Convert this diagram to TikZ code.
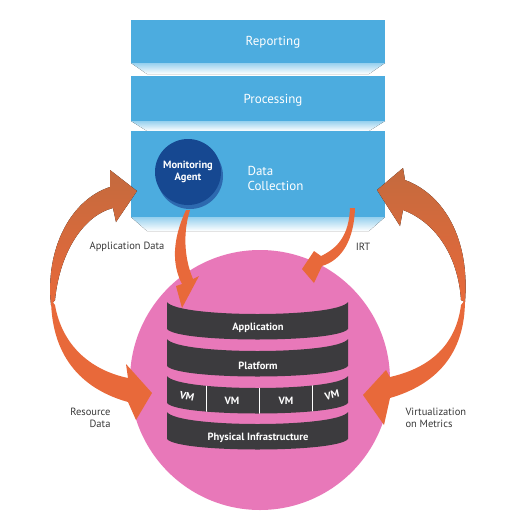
\documentclass[tikz,border=0pt]{standalone}
\usepackage{fontspec}
\setmainfont{PT Sans}
\definecolor{barblue}{RGB}{76,172,223}
\definecolor{fadeblue}{RGB}{150,208,238}
\definecolor{agentblue}{RGB}{22,72,145}
\definecolor{agentrim}{RGB}{45,105,175}
\definecolor{pinkdisc}{RGB}{232,120,185}
\definecolor{layergray}{RGB}{60,59,62}
\definecolor{arroworange}{RGB}{232,105,58}
\definecolor{arrowbrown}{RGB}{196,106,62}
\definecolor{notegray}{RGB}{55,55,55}
\begin{document}
\begin{tikzpicture}
   [x=1pt, y=-1pt,
    bar/.style={fill=barblue},
    fade/.style={top color=fadeblue, bottom color=white},
    bartext/.style={text=white, font=\fontsize{13}{15}\selectfont},
    layer/.style={fill=layergray},
    layertext/.style={text=white, font=\bfseries\fontsize{10.5}{12}\selectfont},
    note/.style={text=notegray, font=\fontsize{10.5}{12.5}\selectfont},
    orange arrow/.style={top color=arrowbrown, bottom color=arroworange},
    flat arrow/.style={fill=arroworange}]
   \useasboundingbox (0,0) rectangle (506,515);

   % stacked bars
   \fill[bar] (131,20) rectangle (385,63);
   \fill[fade] (131,63) -- (385,63) -- (369,74) -- (147,74) -- cycle;
   \fill[bar] (131,76) rectangle (385,121);
   \fill[fade] (131,121) -- (385,121) -- (369,131) -- (147,131) -- cycle;
   \fill[bar] (131,131) rectangle (385,217);
   \fill[fade] (131,217) -- (385,217) -- (369,231) -- (147,231) -- cycle;
   \node[bartext] (reporting) at (273,42) {Reporting};
   \node[bartext] (processing) at (273,100) {Processing};
   \node[bartext, anchor=west, align=left] (collection) at (244,178) {Data\\Collection};

   \fill[agentrim] (190,176) circle (33);
   \node[circle, fill=agentblue, minimum size=66pt, inner sep=0pt, align=center,
         text=white, font=\bfseries\fontsize{10.5}{12}\selectfont] (agent) at (188,172) {Monitoring\\Agent};

   % resources
   \fill[pinkdisc] (260,380) circle (130);
   \foreach \yt in {302,339,376,412}
      \fill[layer] (167,\yt) .. controls (178,\yt+16) and (337,\yt+16) .. (348,\yt)
         -- (348,\yt+27) .. controls (337,\yt+41) and (178,\yt+41) .. (167,\yt+27) -- cycle;
   \begin{scope}
      \clip (167,376) .. controls (178,392) and (337,392) .. (348,376)
         -- (348,403) .. controls (337,417) and (178,417) .. (167,403) -- cycle;
      \foreach \xv in {206,259,312}
         \draw[white, line width=0.8pt] (\xv,370) -- (\xv,425);
   \end{scope}
   \node[layertext] (app) at (258,328) {Application};
   \node[layertext] (platform) at (258,366) {Platform};
   \node[layertext, rotate=-12] (vm1) at (187,396) {VM};
   \node[layertext] (vm2) at (232,401) {VM};
   \node[layertext] (vm3) at (286,401) {VM};
   \node[layertext, rotate=12] (vm4) at (332,395) {VM};
   \node[layertext] (infra) at (258,438) {Physical Infrastructure};

   % arrows
   \fill[flat arrow] (186,210) .. controls (172,240) and (172,265) .. (182,284)
      -- (176,286) -- (182,308) -- (199,276) -- (193,279)
      .. controls (184,258) and (183,232) .. (190,210) -- cycle;
   \fill[flat arrow] (350,208) .. controls (349,235) and (338,248) .. (321,256)
      -- (314,251) -- (302,269) -- (314,283) -- (322,266)
      .. controls (342,260) and (354,240) .. (355,208) -- cycle;
   \fill[orange arrow] (51,305) .. controls (45,250) and (70,200) .. (110,187)
      -- (110,170) -- (137,191) -- (116,222) -- (113,208)
      .. controls (85,215) and (60,250) .. (55,300) -- cycle;
   \fill[flat arrow] (51,300) .. controls (52,360) and (85,390) .. (128,402)
      -- (136,420) -- (152,393) -- (126,364) -- (128,378)
      .. controls (90,370) and (62,345) .. (55,305) -- cycle;
   \fill[orange arrow] (465,302) .. controls (470,240) and (445,195) .. (405,180)
      -- (403,168) -- (377,190) -- (400,226) -- (403,210)
      .. controls (435,222) and (458,255) .. (461,300) -- cycle;
   \fill[flat arrow] (465,300) .. controls (465,355) and (435,385) .. (390,398)
      -- (384,425) -- (363,395) -- (386,370) -- (390,377)
      .. controls (430,368) and (456,345) .. (461,305) -- cycle;

   \node[note] (appdata) at (127,247) {Application Data};
   \node[note] (irt) at (363,247) {IRT};
   \node[note, anchor=east, align=right] (resdata) at (114,418) {Resource\\Data};
   \node[note, anchor=west, align=left] (virt) at (402,418) {Virtualization\\on Metrics};
\end{tikzpicture}
\end{document}
